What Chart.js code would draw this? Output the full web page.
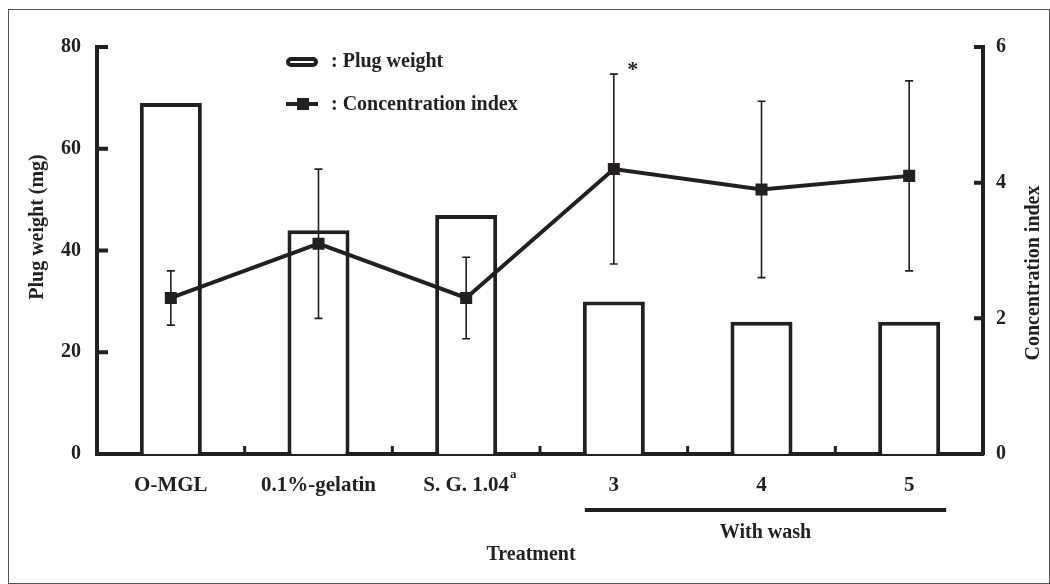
<!DOCTYPE html>
<html>
<head>
<meta charset="utf-8">
<script src="https://cdn.jsdelivr.net/npm/chart.js@4/dist/chart.umd.min.js"></script>
<style>
  html, body { margin: 0; padding: 0; background: #fff; }
  #wrap { width: 1050px; height: 584px; position: relative; }
</style>
</head>
<body>
<div id="wrap"><canvas id="chart"></canvas></div>
<script>
// values
const categories = ['O-MGL', '0.1%-gelatin', 'S. G. 1.04', '3', '4', '5'];
const plugWeight = [69, 44, 47, 30, 26, 26];
const concIndex = [2.3, 3.1, 2.3, 4.2, 3.9, 4.1];
const concLow = [1.9, 2.0, 1.7, 2.8, 2.6, 2.7];
const concHigh = [2.7, 4.2, 2.9, 5.6, 5.2, 5.5];
const weightTicks = [0, 20, 40, 60, 80];
const indexTicks = [0, 2, 4, 6];
const superscripts = ['', '', 'a', '', '', ''];
const starred = [3];
const washGroup = [3, 5];

const INK = '#231f20';
const FONT = '"Liberation Serif", "Times New Roman", serif';

const extras = {
  id: 'extras',
  beforeDraw(chart) {
    const ctx = chart.ctx;
    ctx.save();
    ctx.fillStyle = '#fff';
    ctx.fillRect(0, 0, chart.width, chart.height);
    ctx.strokeStyle = '#555';
    ctx.lineWidth = 1;
    ctx.strokeRect(8.5, 9.5, chart.width - 9, chart.height - 10);
    ctx.restore();
  },
  afterDatasetsDraw(chart) {
    const ctx = chart.ctx;
    const x = chart.scales.x, y1 = chart.scales.y1;
    ctx.save();
    ctx.strokeStyle = INK;
    ctx.lineWidth = 1.6;
    concIndex.forEach((v, i) => {
      const px = x.getPixelForValue(i);
      const top = y1.getPixelForValue(concHigh[i]);
      const bot = y1.getPixelForValue(concLow[i]);
      ctx.beginPath();
      ctx.moveTo(px, top); ctx.lineTo(px, bot);
      ctx.moveTo(px - 4, top); ctx.lineTo(px + 4, top);
      ctx.moveTo(px - 4, bot); ctx.lineTo(px + 4, bot);
      ctx.stroke();
    });
    // significance mark
    ctx.fillStyle = INK;
    ctx.font = 'bold 22px ' + FONT;
    ctx.textAlign = 'center';
    ctx.textBaseline = 'middle';
    starred.forEach(i => {
      ctx.fillText('*', x.getPixelForValue(i) + 19, y1.getPixelForValue(concHigh[i]) - 4);
    });
    ctx.restore();
  },
  afterDraw(chart) {
    const ctx = chart.ctx;
    const {x, y, y1} = chart.scales;
    const area = chart.chartArea;
    ctx.save();
    ctx.strokeStyle = INK;
    ctx.fillStyle = INK;
    ctx.lineWidth = 4;
    // inward tick marks
    ctx.beginPath();
    weightTicks.forEach(v => {
      if (v === 0) return;
      const py = y.getPixelForValue(v);
      ctx.moveTo(area.left - 2, py); ctx.lineTo(area.left + 11, py);
    });
    indexTicks.forEach(v => {
      if (v === 0) return;
      const py = y1.getPixelForValue(v);
      ctx.moveTo(area.right + 2, py); ctx.lineTo(area.right - 9, py);
    });
    ctx.stroke();
    ctx.lineWidth = 3;
    ctx.beginPath();
    for (let i = 0; i < categories.length - 1; i++) {
      const px = (x.getPixelForValue(i) + x.getPixelForValue(i + 1)) / 2;
      ctx.moveTo(px, area.bottom); ctx.lineTo(px, area.bottom - 8);
    }
    ctx.stroke();

    // superscripts on tick labels
    ctx.font = 'bold 21px ' + FONT;
    const w = categories.map(c => ctx.measureText(c).width);
    ctx.font = 'bold 13px ' + FONT;
    ctx.textAlign = 'left';
    ctx.textBaseline = 'middle';
    superscripts.forEach((s, i) => {
      if (!s) return;
      ctx.fillText(s, x.getPixelForValue(i) + w[i] / 2 + 1, 475);
    });

    // "With wash" group line
    const bars = chart.getDatasetMeta(1).data;
    const gx1 = bars[washGroup[0]].x - bars[washGroup[0]].width / 2 + 2;
    const gx2 = bars[washGroup[1]].x + bars[washGroup[1]].width / 2 + 6;
    ctx.lineWidth = 4;
    ctx.beginPath();
    ctx.moveTo(gx1, 510); ctx.lineTo(gx2, 510);
    ctx.stroke();
    ctx.font = 'bold 20px ' + FONT;
    ctx.textAlign = 'center';
    ctx.fillText('With wash', (gx1 + gx2) / 2, 533);
    ctx.fillText('Treatment', 531, 555);

    // axis titles
    ctx.save();
    ctx.translate(38, 227);
    ctx.rotate(-Math.PI / 2);
    ctx.fillText(chart.data.datasets[1].label + ' (mg)', 0, 0);
    ctx.restore();
    ctx.save();
    ctx.translate(1034, 273);
    ctx.rotate(-Math.PI / 2);
    ctx.fillText(chart.data.datasets[0].label, 0, 0);
    ctx.restore();

    // legend
    ctx.lineWidth = 4;
    ctx.beginPath();
    ctx.roundRect(288, 59, 28, 6, 3);
    ctx.stroke();
    ctx.beginPath();
    ctx.moveTo(286, 104); ctx.lineTo(318, 104);
    ctx.stroke();
    ctx.fillRect(297, 98, 12, 12);
    ctx.textAlign = 'left';
    ctx.textBaseline = 'alphabetic';
    ctx.fillText(': ' + chart.data.datasets[1].label, 331, 67);
    ctx.fillText(': ' + chart.data.datasets[0].label, 331, 110);
    ctx.restore();
  }
};

const tickFont = { family: FONT, size: 20, weight: 'bold' };

new Chart(document.getElementById('chart'), {
  data: {
    labels: categories,
    datasets: [{
      type: 'line',
      label: 'Concentration index',
      data: concIndex,
      yAxisID: 'y1',
      borderColor: INK,
      backgroundColor: INK,
      borderWidth: 4,
      pointStyle: 'rect',
      pointRadius: 8.5,
      pointBorderWidth: 0,
      tension: 0,
      order: 0
    }, {
      type: 'bar',
      label: 'Plug weight',
      data: plugWeight,
      yAxisID: 'y',
      backgroundColor: '#fff',
      borderColor: INK,
      borderWidth: 4,
      borderSkipped: 'bottom',
      categoryPercentage: 1,
      barPercentage: 0.42,
      order: 1
    }]
  },
  options: {
    responsive: true,
    maintainAspectRatio: false,
    animation: false,
    devicePixelRatio: 1,
    layout: { padding: { top: 47, left: 0, right: 0, bottom: 0 } },
    plugins: { legend: { display: false }, tooltip: { enabled: false } },
    scales: {
      x: {
        grid: { display: false, drawTicks: false },
        border: { display: true, color: INK, width: 4 },
        ticks: { color: INK, font: { family: FONT, size: 21, weight: 'bold' }, padding: 19, maxRotation: 0 },
        afterFit: s => { s.height = 130; }
      },
      y: {
        position: 'left',
        min: 0, max: 80,
        afterBuildTicks: s => { s.ticks = weightTicks.map(v => ({ value: v })); },
        grid: { display: false, drawTicks: false },
        border: { display: true, color: INK, width: 4 },
        ticks: { color: INK, font: tickFont, padding: 16 },
        afterFit: s => { s.width = 97; }
      },
      y1: {
        position: 'right',
        min: 0, max: 6,
        afterBuildTicks: s => { s.ticks = indexTicks.map(v => ({ value: v })); },
        grid: { display: false, drawTicks: false },
        border: { display: true, color: INK, width: 4 },
        ticks: { color: INK, font: tickFont, padding: 13 },
        afterFit: s => { s.width = 67; }
      }
    }
  },
  plugins: [extras]
});
</script>
</body>
</html>
